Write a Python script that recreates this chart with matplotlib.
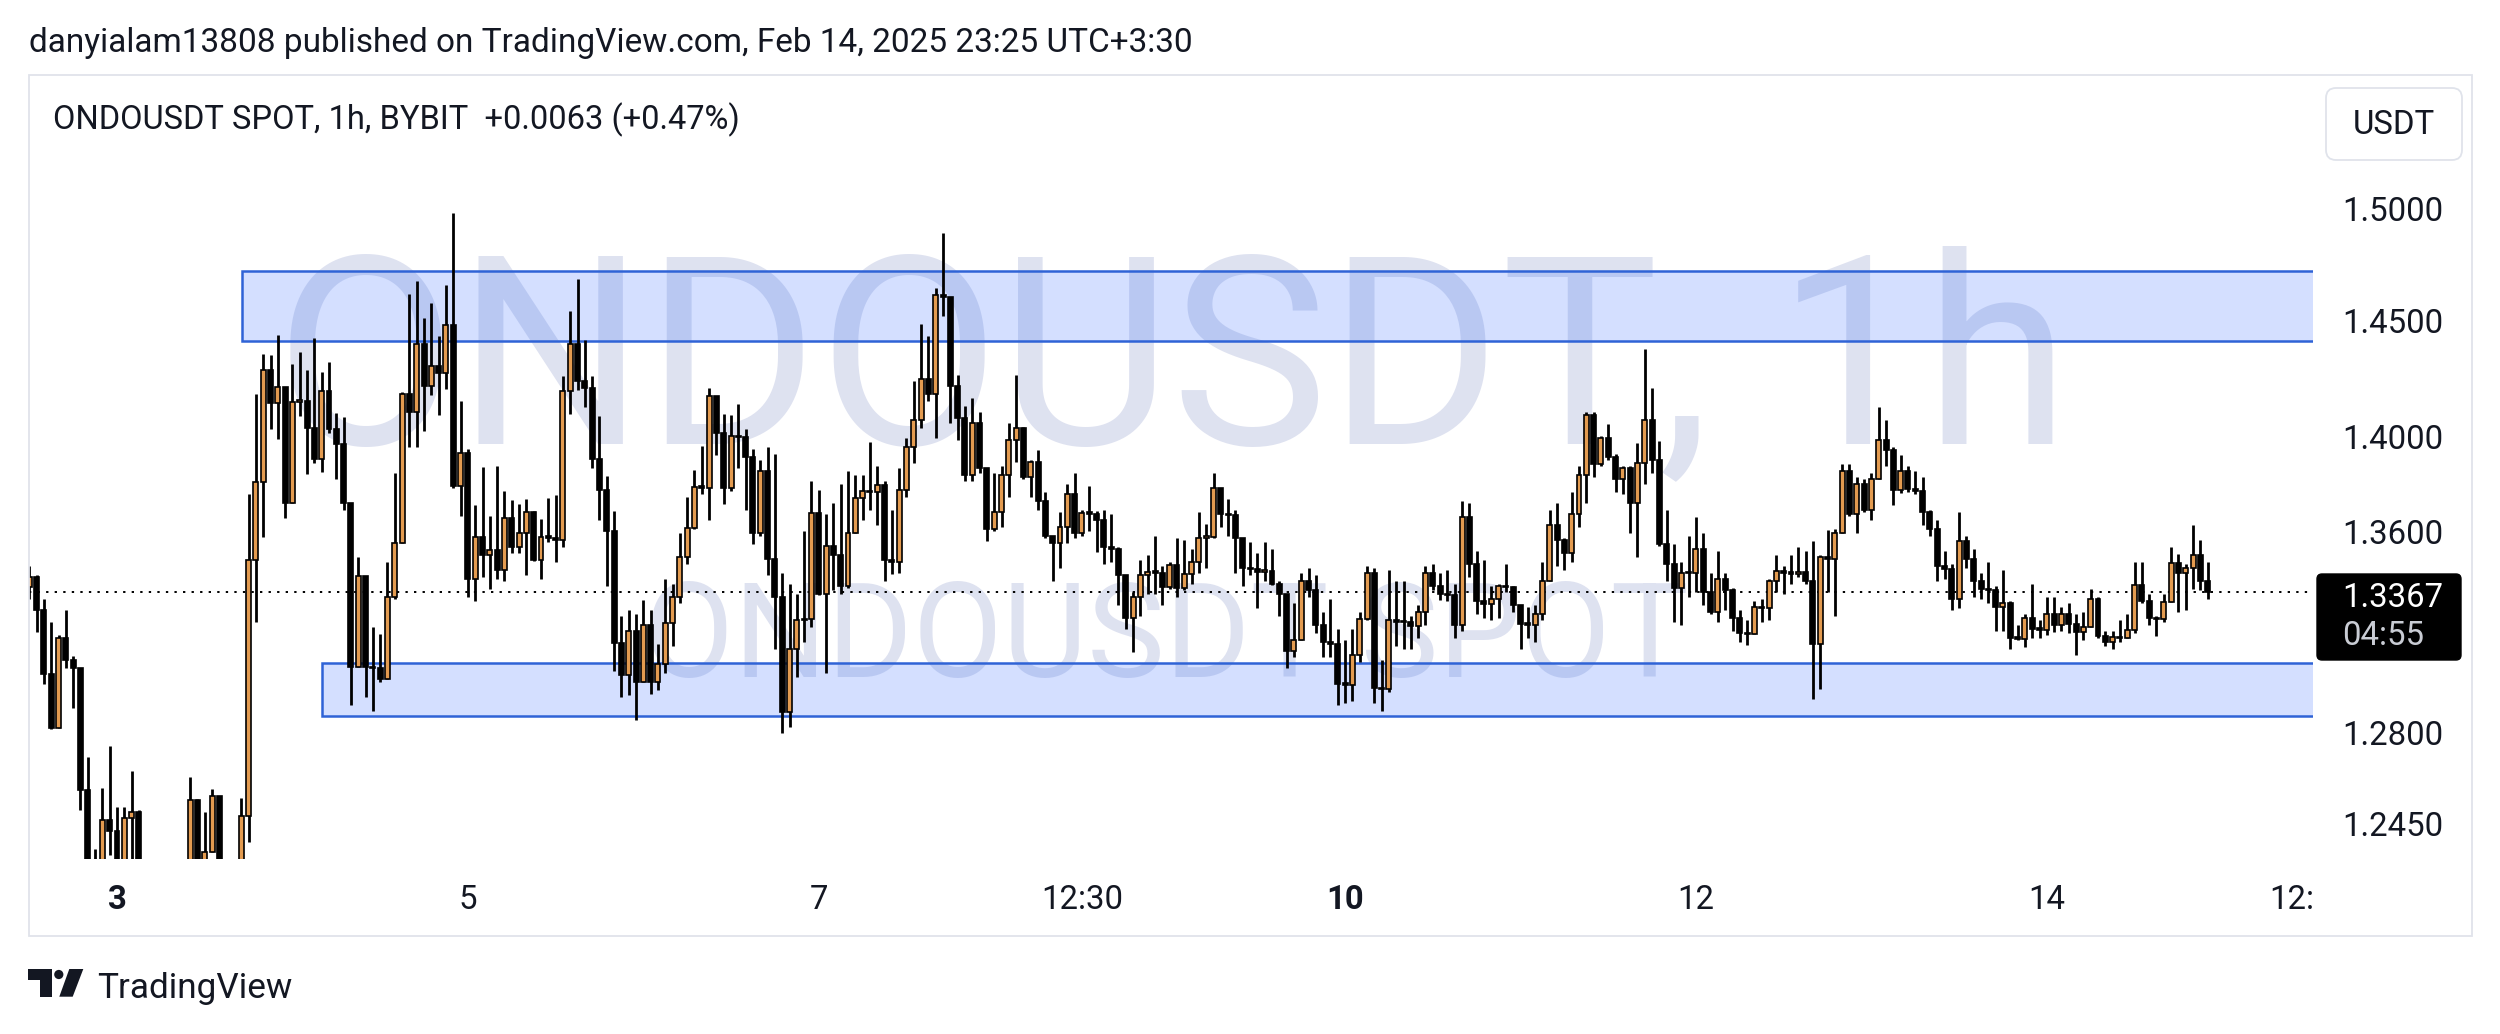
import numpy as np
import matplotlib.pyplot as plt
from matplotlib.patches import Rectangle, FancyBboxPatch, Circle, Polygon
from matplotlib.transforms import blended_transform_factory, Bbox, TransformedBbox

plt.rcParams['font.family'] = ['Roboto', 'DejaVu Sans']

# ONDOUSDT 1h candles, Feb 2 12:30 -> Feb 14 22:30 (UTC+3:30)
first_open = 1.3391
closes = [
    1.3430, 1.3298, 1.3041, 1.2830, 1.3185, 1.3098, 1.3063, 1.2591, 1.2290, 1.2200,
    1.2475, 1.2434, 1.2300, 1.2483, 1.2508, 1.2280, 1.2250, 1.2180, 1.2120, 1.2150,
    1.2200, 1.2220, 1.2553, 1.2300, 1.2355, 1.2566, 1.2310, 1.2250, 1.2240, 1.2491,
    1.3501, 1.3821, 1.4297, 1.4157, 1.4227, 1.3734, 1.4162, 1.4166, 1.4049, 1.3920,
    1.4209, 1.4045, 1.3984, 1.3734, 1.3068, 1.3435, 1.3068, 1.3063, 1.3020, 1.3350,
    1.3567, 1.4194, 1.4120, 1.4411, 1.4231, 1.4316, 1.4287, 1.4496, 1.3806, 1.3944,
    1.3421, 1.3595, 1.3519, 1.3542, 1.3457, 1.3671, 1.3554, 1.3608, 1.3698, 1.3501,
    1.3594, 1.3590, 1.3581, 1.4209, 1.4411, 1.4250, 1.4222, 1.3920, 1.3788, 1.3617,
    1.3162, 1.3037, 1.3211, 1.3011, 1.3237, 1.3011, 1.3080, 1.3242, 1.3350, 1.3513,
    1.3630, 1.3802, 1.3798, 1.4188, 1.4027, 1.3797, 1.4017, 1.4010, 1.3925, 1.3608,
    1.3870, 1.3505, 1.3350, 1.2892, 1.3141, 1.3255, 1.3258, 1.3694, 1.3359, 1.3558,
    1.3519, 1.3394, 1.3612, 1.3756, 1.3784, 1.3780, 1.3810, 1.3501, 1.3489, 1.3788,
    1.3968, 1.4082, 1.4259, 1.4194, 1.4626, 1.4617, 1.4231, 1.4091, 1.3852, 1.4073,
    1.3879, 1.3626, 1.3698, 1.3852, 1.3999, 1.4049, 1.3843, 1.3907, 1.3743, 1.3599,
    1.3569, 1.3635, 1.3770, 1.3608, 1.3694, 1.3689, 1.3662, 1.3551, 1.3545, 1.3439,
    1.3263, 1.3350, 1.3439, 1.3451, 1.3448, 1.3391, 1.3480, 1.3386, 1.3442, 1.3492,
    1.3590, 1.3595, 1.3797, 1.3689, 1.3684, 1.3590, 1.3466, 1.3462, 1.3451, 1.3456,
    1.3403, 1.3359, 1.3133, 1.3176, 1.3412, 1.3377, 1.3237, 1.3168, 1.3160, 1.3003,
    1.2998, 1.3115, 1.3258, 1.3448, 1.2986, 1.2980, 1.3255, 1.3249, 1.3246, 1.3232,
    1.3289, 1.3448, 1.3394, 1.3359, 1.3355, 1.3237, 1.3676, 1.3483, 1.3333, 1.3321,
    1.3342, 1.3394, 1.3389, 1.3315, 1.3240, 1.3236, 1.3281, 1.3412, 1.3644, 1.3581,
    1.3528, 1.3689, 1.3852, 1.4107, 1.3898, 1.4008, 1.3925, 1.3834, 1.3879, 1.3734,
    1.3901, 1.4082, 1.3916, 1.3563, 1.3483, 1.3386, 1.3448, 1.3444, 1.3545, 1.3368,
    1.3289, 1.3421, 1.3377, 1.3263, 1.3202, 1.3198, 1.3307, 1.3303, 1.3415, 1.3453,
    1.3446, 1.3443, 1.3452, 1.3412, 1.3159, 1.3510, 1.3505, 1.3608, 1.3870, 1.3689,
    1.3815, 1.3707, 1.3834, 1.3999, 1.3957, 1.3788, 1.3870, 1.3792, 1.3785, 1.3698,
    1.3626, 1.3474, 1.3462, 1.3342, 1.3576, 1.3505, 1.3412, 1.3380, 1.3376, 1.3307,
    1.3324, 1.3185, 1.3180, 1.3263, 1.3220, 1.3216, 1.3281, 1.3237, 1.3281, 1.3240,
    1.3206, 1.3228, 1.3342, 1.3193, 1.3168, 1.3188, 1.3183, 1.3216, 1.3398, 1.3333,
    1.3263, 1.3258, 1.3328, 1.3487, 1.3448, 1.3466, 1.3519, 1.3412, 1.3367,
]
highs = [
    1.3474, 1.3439, 1.3342, 1.3246, 1.3195, 1.3298, 1.3112, 1.3063, 1.2716, 1.2369,
    1.2600, 1.2761, 1.2525, 1.2525, 1.2663, 1.2516, 1.2310, 1.2280, 1.2220, 1.2240,
    1.2280, 1.2300, 1.2641, 1.2558, 1.2505, 1.2595, 1.2566, 1.2320, 1.2300, 1.2561,
    1.3770, 1.4194, 1.4367, 1.4363, 1.4452, 1.4227, 1.4325, 1.4378, 1.4297, 1.4439,
    1.4291, 1.4334, 1.4114, 1.4095, 1.3734, 1.3510, 1.3435, 1.3228, 1.3199, 1.3492,
    1.3861, 1.4203, 1.4632, 1.4689, 1.4525, 1.4590, 1.4448, 1.4670, 1.4996, 1.4166,
    1.3962, 1.3725, 1.3883, 1.3680, 1.3889, 1.3785, 1.3747, 1.3729, 1.3752, 1.3702,
    1.3667, 1.3756, 1.3766, 1.4274, 1.4558, 1.4698, 1.4430, 1.4272, 1.4101, 1.3846,
    1.3703, 1.3272, 1.3298, 1.3281, 1.3338, 1.3298, 1.3159, 1.3421, 1.3403, 1.3608,
    1.3761, 1.3874, 1.3975, 1.4222, 1.4188, 1.4110, 1.4106, 1.4153, 1.4045, 1.3962,
    1.3916, 1.3968, 1.3938, 1.3444, 1.3403, 1.3359, 1.3620, 1.3828, 1.3788, 1.3689,
    1.3734, 1.3815, 1.3870, 1.3852, 1.3852, 1.3990, 1.3889, 1.3828, 1.3707, 1.3879,
    1.4008, 1.4250, 1.4500, 1.4448, 1.4660, 1.4907, 1.4613, 1.4278, 1.4142, 1.4179,
    1.4116, 1.3879, 1.3861, 1.3889, 1.4073, 1.4278, 1.4054, 1.3916, 1.3957, 1.3779,
    1.3599, 1.3698, 1.3815, 1.3861, 1.3707, 1.3806, 1.3702, 1.3707, 1.3689, 1.3554,
    1.3439, 1.3368, 1.3501, 1.3519, 1.3599, 1.3474, 1.3492, 1.3590, 1.3581, 1.3545,
    1.3698, 1.3648, 1.3861, 1.3797, 1.3752, 1.3707, 1.3590, 1.3572, 1.3528, 1.3572,
    1.3545, 1.3412, 1.3359, 1.3324, 1.3448, 1.3466, 1.3439, 1.3289, 1.3342, 1.3220,
    1.3176, 1.3220, 1.3289, 1.3474, 1.3466, 1.3098, 1.3457, 1.3412, 1.3412, 1.3272,
    1.3315, 1.3474, 1.3483, 1.3448, 1.3457, 1.3403, 1.3743, 1.3734, 1.3537, 1.3501,
    1.3394, 1.3403, 1.3483, 1.3394, 1.3315, 1.3307, 1.3315, 1.3492, 1.3707, 1.3734,
    1.3590, 1.3779, 1.3889, 1.4120, 1.4120, 1.4017, 1.4067, 1.3938, 1.3889, 1.3889,
    1.3986, 1.4392, 1.4222, 1.3994, 1.3707, 1.3563, 1.3492, 1.3599, 1.3676, 1.3608,
    1.3448, 1.3537, 1.3448, 1.3386, 1.3298, 1.3255, 1.3333, 1.3342, 1.3421, 1.3519,
    1.3474, 1.3519, 1.3551, 1.3537, 1.3576, 1.3519, 1.3622, 1.3626, 1.3898, 1.3898,
    1.3843, 1.3834, 1.3861, 1.4138, 1.4082, 1.3971, 1.3935, 1.3889, 1.3870, 1.3843,
    1.3707, 1.3662, 1.3537, 1.3483, 1.3698, 1.3599, 1.3545, 1.3444, 1.3492, 1.3394,
    1.3457, 1.3333, 1.3237, 1.3281, 1.3403, 1.3255, 1.3350, 1.3350, 1.3307, 1.3324,
    1.3281, 1.3289, 1.3380, 1.3350, 1.3211, 1.3211, 1.3255, 1.3281, 1.3492, 1.3492,
    1.3359, 1.3272, 1.3359, 1.3551, 1.3523, 1.3483, 1.3644, 1.3581, 1.3492,
]
lows = [
    1.3342, 1.3206, 1.3000, 1.2825, 1.2828, 1.3063, 1.2906, 1.2516, 1.2230, 1.2150,
    1.2180, 1.2345, 1.2250, 1.2270, 1.2330, 1.2250, 1.2200, 1.2120, 1.2050, 1.2080,
    1.2120, 1.2150, 1.2200, 1.2270, 1.2260, 1.2361, 1.2280, 1.2200, 1.2180, 1.2220,
    1.2393, 1.3246, 1.3595, 1.4045, 1.4004, 1.3671, 1.3734, 1.4101, 1.3857, 1.3901,
    1.3865, 1.4027, 1.3834, 1.3707, 1.2918, 1.3068, 1.2952, 1.2897, 1.3011, 1.3020,
    1.3342, 1.3572, 1.3971, 1.3971, 1.4036, 1.4190, 1.4105, 1.4216, 1.3797, 1.3680,
    1.3350, 1.3332, 1.3430, 1.3380, 1.3421, 1.3412, 1.3528, 1.3528, 1.3439, 1.3495,
    1.3421, 1.3572, 1.3492, 1.3554, 1.4110, 1.4213, 1.4138, 1.3879, 1.3662, 1.3394,
    1.3054, 1.2952, 1.2960, 1.2862, 1.3011, 1.2963, 1.2977, 1.3046, 1.3150, 1.3324,
    1.3483, 1.3626, 1.3770, 1.3662, 1.3935, 1.3730, 1.3784, 1.3879, 1.3707, 1.3563,
    1.3599, 1.3439, 1.3141, 1.2808, 1.2833, 1.3029, 1.3168, 1.3228, 1.3355, 1.3046,
    1.3377, 1.3359, 1.3386, 1.3608, 1.3662, 1.3707, 1.3644, 1.3412, 1.3442, 1.3448,
    1.3761, 1.3901, 1.4049, 1.4166, 1.4008, 1.4534, 1.4073, 1.3999, 1.3828, 1.3828,
    1.3861, 1.3576, 1.3617, 1.3635, 1.3761, 1.3907, 1.3834, 1.3761, 1.3707, 1.3590,
    1.3412, 1.3466, 1.3569, 1.3590, 1.3599, 1.3617, 1.3533, 1.3483, 1.3492, 1.3315,
    1.3220, 1.3129, 1.3272, 1.3359, 1.3359, 1.3315, 1.3380, 1.3350, 1.3377, 1.3403,
    1.3448, 1.3466, 1.3590, 1.3635, 1.3599, 1.3448, 1.3394, 1.3439, 1.3306, 1.3412,
    1.3398, 1.3272, 1.3063, 1.3107, 1.3176, 1.3350, 1.3202, 1.3107, 1.3107, 1.2918,
    1.2926, 1.2935, 1.3089, 1.3255, 1.2926, 1.2895, 1.2969, 1.3150, 1.3141, 1.3141,
    1.3185, 1.3237, 1.3377, 1.3338, 1.3333, 1.3185, 1.3211, 1.3430, 1.3281, 1.3263,
    1.3255, 1.3263, 1.3368, 1.3289, 1.3141, 1.3185, 1.3168, 1.3255, 1.3412, 1.3474,
    1.3457, 1.3492, 1.3635, 1.3734, 1.3843, 1.3889, 1.3916, 1.3779, 1.3770, 1.3608,
    1.3510, 1.3815, 1.3861, 1.3558, 1.3412, 1.3246, 1.3237, 1.3350, 1.3368, 1.3315,
    1.3281, 1.3246, 1.3298, 1.3211, 1.3168, 1.3154, 1.3202, 1.3246, 1.3255, 1.3368,
    1.3359, 1.3403, 1.3430, 1.3403, 1.2943, 1.2980, 1.3368, 1.3272, 1.3608, 1.3680,
    1.3608, 1.3698, 1.3662, 1.3834, 1.3889, 1.3725, 1.3774, 1.3779, 1.3770, 1.3644,
    1.3599, 1.3412, 1.3421, 1.3298, 1.3303, 1.3466, 1.3350, 1.3342, 1.3324, 1.3211,
    1.3211, 1.3141, 1.3176, 1.3146, 1.3185, 1.3185, 1.3194, 1.3206, 1.3211, 1.3202,
    1.3115, 1.3176, 1.3237, 1.3185, 1.3150, 1.3141, 1.3168, 1.3188, 1.3202, 1.3324,
    1.3237, 1.3193, 1.3246, 1.3333, 1.3289, 1.3298, 1.3380, 1.3377, 1.3342,
]

# price scale labels and time labels (candle index where the label sits)
price_ticks = [1.5000, 1.4500, 1.4000, 1.3600, 1.2800, 1.2450]
time_labels = ["3", "5", "7", "12:30", "10", "12", "14", "12:30"]
time_label_idx = [12, 60, 108, 144, 180, 228, 276, 312]
bold_labels = ["3", "10"]

# drawn zones: (first candle index, bottom price, top price)
zones = [(29.1, 1.4424, 1.4734), (40.1, 1.2875, 1.3085)]
last_price = 1.3367

W, H = 2500, 1034
fig = plt.figure(figsize=(W / 100, H / 100), dpi=100)
fig.patch.set_facecolor('white')

# price pane
ax = fig.add_axes([29 / W, 1 - 859 / H, (2313 - 29) / W, (859 - 76) / H], zorder=1)
ax.set_yscale('log')
ax.set_xlim(-0.04, 312.41)
ax.set_ylim(1.2330, 1.5631)
ax.axis('off')

# pixel overlay for everything else (y grows downward)
ov = fig.add_axes([0, 0, 1, 1], zorder=5)
ov.set_xlim(0, W)
ov.set_ylim(H, 0)
ov.axis('off')

renderer = fig.canvas.get_renderer()


def fit(t, width_px):
    w = t.get_window_extent(renderer=renderer).width
    t.set_fontsize(t.get_fontsize() * width_px / w)
    return t


ink = '#131722'

# watermark
wm_color = (0.50, 0.56, 0.78, 0.26)
fit(ax.text(1172, 443, "ONDOUSDT, 1h", transform=ov.transData, ha='center', va='baseline',
            color=wm_color, fontsize=100, zorder=0.5), 1795)
fit(ax.text(1166, 677, "ONDOUSDT SPOT", transform=ov.transData, ha='center', va='baseline',
            color=wm_color, fontsize=60, zorder=0.5), 1045)

# zones
for start, lo, hi in zones:
    ax.add_patch(Rectangle((start, lo), 330 - start, hi - lo, facecolor=(41 / 255, 98 / 255, 1, 0.2),
                           edgecolor='#2f63d6', linewidth=1.8, zorder=1))

# last price line
ax.axhline(last_price, color='black', linestyle=(0, (1.2, 3.2)), linewidth=1.4, zorder=2)

# candles
c = np.array(closes)
hi_ = np.array(highs)
lo_ = np.array(lows)
o = np.concatenate([[first_open], c[:-1]])
x = np.arange(len(c))
up = c >= o
ax.vlines(x, np.minimum(lo_, np.minimum(o, c)), np.maximum(hi_, np.maximum(o, c)),
          color='black', linewidth=2.0, zorder=3)
bottom = np.minimum(o, c)
height = np.maximum(np.abs(c - o), 0.0006)
ax.bar(x[up], height[up], bottom=bottom[up], width=0.68, color='#e39b50',
       edgecolor='black', linewidth=1.2, zorder=4)
ax.bar(x[~up], height[~up], bottom=bottom[~up], width=0.68, color='black',
       edgecolor='black', linewidth=1.2, zorder=4)

# outer panel frame
ov.add_patch(Rectangle((29, 75), 2443, 861, fill=False, edgecolor='#e0e3eb', linewidth=1.3))

# header and legend
fit(ov.text(29, 43, "danyialam13808 published on TradingView.com, Feb 14, 2025 23:25 UTC+3:30",
            ha='left', va='center', color=ink, fontsize=20), 1164)
fit(ov.text(53, 120, "ONDOUSDT SPOT, 1h, BYBIT  +0.0063 (+0.47%)",
            ha='left', va='center', color=ink, fontsize=20), 687)

# label size from the width of "1.5000"
probe = ov.text(0, 0, "1.5000", fontsize=20)
lab_size = 20 * 101 / probe.get_window_extent(renderer=renderer).width
probe.remove()

# price scale
yt = blended_transform_factory(ov.transData, ax.transData)
for p in price_ticks:
    ov.text(2443, p, f"{p:.4f}", transform=yt, ha='right', va='center', color=ink, fontsize=lab_size)

# USDT button
ov.add_patch(FancyBboxPatch((2326, 88), 136, 72, boxstyle='round,pad=0,rounding_size=10',
                            facecolor='white', edgecolor='#e0e3eb', linewidth=1.3))
ov.text(2394, 125, "USDT", ha='center', va='center', color=ink, fontsize=lab_size)

# last price tag
ov.add_patch(FancyBboxPatch((2317, 574), 144, 86, boxstyle='round,pad=0,rounding_size=5',
                            facecolor='black', edgecolor='black'))
ov.text(2443, 598, f"{last_price:.4f}", ha='right', va='center', color='white', fontsize=lab_size)
ov.text(2342, 636, "04:55", ha='left', va='center', color='#c9ccd4', fontsize=lab_size)

# time scale
xt = blended_transform_factory(ax.transData, ov.transData)
clip = TransformedBbox(Bbox([[0, 0], [2313 / W, 1]]), fig.transFigure)
for lab, idx in zip(time_labels, time_label_idx):
    t = ov.text(idx, 900, lab, transform=xt, ha='center', va='center', color=ink, fontsize=lab_size,
                fontweight='bold' if lab in bold_labels else 'normal')
    t.set_clip_box(clip)
    t.set_clip_on(True)

# TradingView logo
ov.add_patch(Polygon([(28.3, 969), (51.7, 969), (51.7, 996.7), (40, 996.7), (40, 980), (28.3, 980)],
                     closed=True, facecolor=ink, edgecolor='none'))
ov.add_patch(Circle((58.8, 974.5), 4.6, facecolor=ink, edgecolor='none'))
ov.add_patch(Polygon([(69.3, 969), (83.3, 969), (72.7, 996.7), (59.3, 996.7)],
                     closed=True, facecolor=ink, edgecolor='none'))
fit(ov.text(97, 998, "TradingView", ha='left', va='baseline', color=ink, fontsize=20), 195)

fig.savefig("out.png", dpi=100)
